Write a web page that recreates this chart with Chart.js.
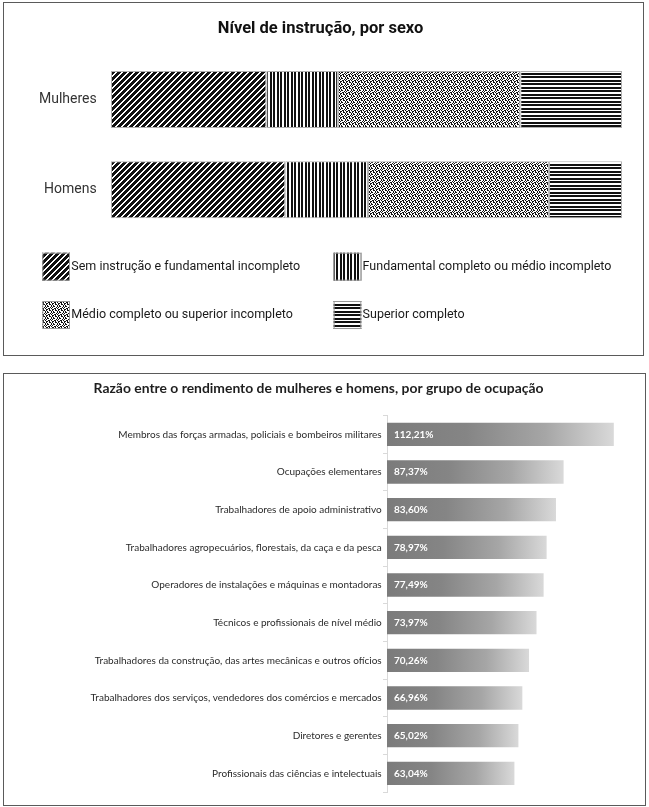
<!DOCTYPE html>
<html lang="pt-BR">
<head>
<meta charset="utf-8">
<title>Nível de instrução e rendimento, por sexo</title>
<script src="https://cdn.jsdelivr.net/npm/chart.js@4.4.1/dist/chart.umd.min.js"></script>
<style>
  html, body { margin: 0; padding: 0; background: #fff; }
  body { width: 649px; height: 807px; position: relative; overflow: hidden; }
  .painel { position: absolute; box-sizing: border-box; border: 1px solid #5a5a5a; background: #fff; }
  #painel-instrucao { left: 3px; top: 2px; width: 641px; height: 354px; }
  #painel-rendimento { left: 3px; top: 373px; width: 643px; height: 433px; }
  .painel canvas { display: block; }
</style>
</head>
<body>
<div class="painel" id="painel-instrucao">
  <canvas id="chart-instrucao" width="639" height="352"></canvas>
</div>
<div class="painel" id="painel-rendimento">
  <canvas id="chart-rendimento" width="641" height="431"></canvas>
</div>
<script>
// Nível de instrução (%), por sexo
const sexos = ['Mulheres', 'Homens'];
const niveis = [
    'Sem instrução e fundamental incompleto',
    'Fundamental completo ou médio incompleto',
    'Médio completo ou superior incompleto',
    'Superior completo'
];
const semInstrucao = [30.4, 34.1];
const fundamentalCompleto = [14.0, 16.2];
const medioCompleto = [35.7, 35.4];
const superiorCompleto = [19.9, 14.3];

// Razão entre o rendimento de mulheres e homens (%)
const ocupacoes = [
    'Membros das forças armadas, policiais e bombeiros militares',
    'Ocupações elementares',
    'Trabalhadores de apoio administrativo',
    'Trabalhadores agropecuários, florestais, da caça e da pesca',
    'Operadores de instalações e máquinas e montadoras',
    'Técnicos e profissionais de nível médio',
    'Trabalhadores da construção, das artes mecânicas e outros ofícios',
    'Trabalhadores dos serviços, vendedores dos comércios e mercados',
    'Diretores e gerentes',
    'Profissionais das ciências e intelectuais'
];
const razaoRendimento = [112.21, 87.37, 83.60, 78.97, 77.49, 73.97, 70.26, 66.96, 65.02, 63.04];

// Padrões preto e branco (B = preto)
function criarPadrao(linhas) {
    const tile = document.createElement('canvas');
    tile.width = linhas[0].length;
    tile.height = linhas.length;
    const t = tile.getContext('2d');
    t.fillStyle = '#fff';
    t.fillRect(0, 0, tile.width, tile.height);
    t.fillStyle = '#111';
    linhas.forEach((linha, y) => {
        for (let x = 0; x < linha.length; x++) {
            if (linha[x] === 'B') t.fillRect(x, y, 1, 1);
        }
    });
    return document.createElement('canvas').getContext('2d').createPattern(tile, 'repeat');
}

function linhasDiagonais(n, brancos) {
    const linhas = [];
    for (let y = 0; y < n; y++) {
        let s = '';
        for (let x = 0; x < n; x++) s += ((x + y) % n < brancos) ? '.' : 'B';
        linhas.push(s);
    }
    return linhas;
}

const padroes = [
    criarPadrao(linhasDiagonais(6, 2)),
    criarPadrao(['BB.BB..']),
    criarPadrao([
        'BB.B..',
        'B..BB.',
        '.B...B',
        '.BB..B',
        'B...B.',
        '..BB.B'
    ]),
    criarPadrao(['B', 'B', '.', 'B', 'B', '.', '.'])
];

const valoresNiveis = [semInstrucao, fundamentalCompleto, medioCompleto, superiorCompleto];

// Legenda em duas colunas, com os mesmos padrões das barras
const legendaPadroes = {
    id: 'legendaPadroes',
    afterDraw(chart) {
        const ctx = chart.ctx;
        const colunas = [38.3, 329.6];
        const linhas = [263.7, 312];
        ctx.save();
        ctx.font = '12.5px Roboto, "Noto Sans", sans-serif';
        ctx.textBaseline = 'middle';
        ctx.textAlign = 'left';
        niveis.forEach((nome, i) => {
            const x = colunas[i % 2];
            const yc = linhas[Math.floor(i / 2)];
            ctx.fillStyle = padroes[i];
            ctx.fillRect(x, yc - 14, 27.7, 28);
            ctx.strokeStyle = '#999';
            ctx.lineWidth = 1;
            ctx.strokeRect(x + 0.5, yc - 13.5, 26.7, 27);
            ctx.fillStyle = '#1a1a1a';
            ctx.fillText(nome, x + 29, yc);
        });
        ctx.restore();
    }
};

new Chart(document.getElementById('chart-instrucao'), {
    type: 'bar',
    data: {
        labels: sexos,
        datasets: niveis.map((nome, i) => ({
            label: nome,
            data: valoresNiveis[i],
            backgroundColor: padroes[i],
            borderColor: '#b0b0b0',
            borderWidth: 1,
            borderSkipped: false,
            barPercentage: 0.633,
            categoryPercentage: 1
        }))
    },
    options: {
        responsive: false,
        animation: false,
        indexAxis: 'y',
        layout: { padding: { left: 0, right: 6, top: 0, bottom: 120.25 } },
        plugins: {
            legend: { display: false },
            tooltip: { enabled: false },
            title: {
                display: true,
                text: 'Nível de instrução, por sexo',
                color: '#111',
                font: { family: 'Roboto, "Noto Sans", sans-serif', size: 16.5, weight: 'bold' },
                padding: { top: 16.1, bottom: 15.6 }
            }
        },
        scales: {
            // eixo um pouco além de 100% para a barra terminar onde termina no original
            x: { stacked: true, display: false, min: 0, max: 102.94 },
            y: {
                stacked: true,
                grid: { display: false, drawTicks: false },
                border: { display: false },
                ticks: {
                    color: '#333',
                    padding: 14.3,
                    font: { family: 'Roboto, "Noto Sans", sans-serif', size: 14 }
                },
                afterFit(scale) { scale.width = 107; }
            }
        }
    },
    plugins: [legendaPadroes]
});

// Gradiente horizontal de cada barra (escuro à esquerda, claro à direita)
function gradienteBarra(context) {
    const chart = context.chart;
    if (!chart.chartArea || context.type !== 'data') return '#8a8a8a';
    const xs = chart.scales.x;
    const x0 = xs.getPixelForValue(0);
    const x1 = xs.getPixelForValue(context.raw);
    const g = chart.ctx.createLinearGradient(x0, 0, x1, 0);
    g.addColorStop(0, '#7b7b7b');
    g.addColorStop(0.35, '#858585');
    g.addColorStop(0.7, '#a6a6a6');
    g.addColorStop(1, '#d9d9d9');
    return g;
}

const rotulosValores = {
    id: 'rotulosValores',
    afterDatasetsDraw(chart) {
        const ctx = chart.ctx;
        const meta = chart.getDatasetMeta(0);
        ctx.save();
        ctx.font = 'bold 10px Lato, "Open Sans", sans-serif';
        ctx.fillStyle = '#fff';
        ctx.textAlign = 'left';
        ctx.textBaseline = 'middle';
        meta.data.forEach((bar, i) => {
            const txt = razaoRendimento[i].toFixed(2).replace('.', ',') + '%';
            ctx.fillText(txt, bar.base + 7, bar.y);
        });
        ctx.restore();
    }
};

new Chart(document.getElementById('chart-rendimento'), {
    type: 'bar',
    data: {
        labels: ocupacoes,
        datasets: [{
            label: 'Razão',
            data: razaoRendimento,
            backgroundColor: gradienteBarra,
            borderWidth: 0,
            barPercentage: 0.62,
            categoryPercentage: 1
        }]
    },
    options: {
        responsive: false,
        animation: false,
        indexAxis: 'y',
        layout: { padding: { left: 0, right: 12, top: 0, bottom: 12.8 } },
        plugins: {
            legend: { display: false },
            tooltip: { enabled: false },
            title: {
                display: true,
                text: 'Razão entre o rendimento de mulheres e homens, por grupo de ocupação',
                color: '#1e1e1e',
                font: { family: 'Lato, "Open Sans", sans-serif', size: 13.9, weight: 'bold' },
                padding: { top: 6, bottom: 18.8 }
            }
        },
        scales: {
            x: { display: false, min: 0, max: 121.7 },
            y: {
                grid: { drawOnChartArea: false, drawTicks: true, tickLength: 4, color: '#d9d9d9' },
                border: { display: true, color: '#d9d9d9' },
                ticks: {
                    color: '#2b2b2b',
                    padding: 1.3,
                    font: { family: 'Lato, "Open Sans", sans-serif', size: 10 }
                },
                afterFit(scale) { scale.width = 383; }
            }
        }
    },
    plugins: [rotulosValores]
});
</script>
</body>
</html>
